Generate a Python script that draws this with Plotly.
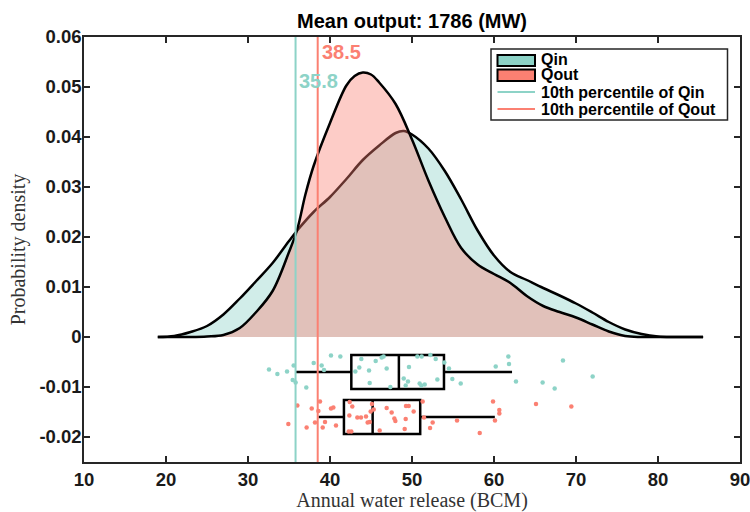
import plotly.graph_objects as go

# ---------------- data ----------------
# kernel density of annual water release (BCM)
kde_x_in = [19, 21, 23, 25, 27, 29, 31, 33, 35, 36, 38, 40, 42, 44, 46, 48, 49, 50, 52, 54,
            56, 58, 60, 62, 64, 66, 68, 70, 72, 74, 76, 78, 80, 82, 85.5]
kde_in = [0.0, 0.0002, 0.0010, 0.0022, 0.0045, 0.0077, 0.0112, 0.0148, 0.0192, 0.0213, 0.0250,
          0.0280, 0.0316, 0.0354, 0.0383, 0.0408, 0.0412, 0.0405, 0.0377, 0.0332, 0.0275,
          0.0213, 0.0163, 0.0130, 0.0114, 0.0098, 0.0083, 0.0067, 0.0049, 0.0030, 0.0015,
          0.0006, 0.0001, 0.0, 0.0]

kde_x_out = [19, 23, 25, 27, 29, 31, 33, 35, 36, 37, 38, 40, 42, 43, 44, 45, 46, 48, 50, 52,
             54, 56, 58, 60, 62, 64, 66, 68, 70, 72, 74, 76, 78, 82, 85.5]
kde_out = [0.0, 0.0, 0.0001, 0.0004, 0.0018, 0.0050, 0.0092, 0.0170, 0.0215, 0.0285, 0.0342,
           0.0428, 0.0503, 0.0522, 0.0529, 0.0525, 0.0509, 0.0466, 0.0395, 0.0313, 0.0240,
           0.0178, 0.0145, 0.0126, 0.0108, 0.0082, 0.0062, 0.0050, 0.0039, 0.0025, 0.0011,
           0.0002, 0.0, 0.0, 0.0]

# jittered samples
qin_pts_x = [32.56, 33.58, 34.76, 35.57, 35.45, 35.81, 37.11, 38.01, 38.98, 39.27, 40.12, 41.26,
             43.09, 43.57, 43.82, 44.76, 44.84, 45.57, 46.30, 46.54, 46.91, 47.36, 48.99, 49.23,
             49.51, 49.63, 50.65, 51.18, 50.93, 51.14, 51.55, 52.24, 52.89, 53.09, 53.94, 54.51,
             54.92, 55.94, 60.21, 61.75, 61.83, 62.68, 65.93, 67.40, 68.41, 72.03]
qin_pts_y = [-0.0065, -0.0074, -0.0069, -0.0057, -0.0086, -0.0091, -0.0101, -0.0052, -0.0057,
             -0.0066, -0.0037, -0.0039, -0.0069, -0.0061, -0.0044, -0.0067, -0.0092, -0.0048,
             -0.0041, -0.0039, -0.0063, -0.0100, -0.0083, -0.0097, -0.0089, -0.0060, -0.0039,
             -0.0039, -0.0093, -0.0097, -0.0095, -0.0036, -0.0044, -0.0085, -0.0051, -0.0063,
             -0.0084, -0.0093, -0.0059, -0.0039, -0.0054, -0.0089, -0.0091, -0.0103, -0.0047,
             -0.0079]
qout_pts_x = [36.02, 37.77, 38.78, 38.58, 34.92, 37.15, 38.17, 39.11, 39.39, 40.12, 40.41, 40.73,
              42.40, 42.36, 42.28, 42.60, 42.72, 43.33, 43.78, 44.39, 44.59, 44.84, 44.96, 45.12,
              45.33, 46.06, 46.91, 47.52, 47.85, 47.97, 49.27, 49.60, 49.23, 49.11, 50.20, 51.30,
              51.46, 52.52, 52.20, 55.49, 58.26, 59.88, 60.65, 60.65, 60.12, 65.12, 69.43]
qout_pts_y = [-0.0137, -0.0143, -0.0129, -0.0148, -0.0174, -0.0181, -0.0171, -0.0181, -0.0170,
              -0.0143, -0.0141, -0.0177, -0.0130, -0.0157, -0.0189, -0.0189, -0.0139, -0.0161,
              -0.0161, -0.0159, -0.0171, -0.0170, -0.0149, -0.0134, -0.0145, -0.0187, -0.0142,
              -0.0151, -0.0163, -0.0168, -0.0138, -0.0138, -0.0164, -0.0184, -0.0149, -0.0129,
              -0.0161, -0.0171, -0.0182, -0.0167, -0.0192, -0.0129, -0.0146, -0.0153, -0.0167,
              -0.0134, -0.0139]

# box-plot statistics
series_names = ["Qin", "Qout"]
box_pos = [-0.0070, -0.0160]
box_lower = [35.8, 38.6]
box_q1 = [42.6, 41.7]
box_median = [48.4, 45.2]
box_q3 = [53.9, 51.0]
box_upper = [62.2, 60.1]

p10 = [35.8, 38.5]
mean_output = 1786

x_ticks = [10, 20, 30, 40, 50, 60, 70, 80, 90]
y_ticks = [-0.02, -0.01, 0, 0.01, 0.02, 0.03, 0.04, 0.05, 0.06]
y_tick_labels = ["-0.02", "-0.01", "0", "0.01", "0.02", "0.03", "0.04", "0.05", "0.06"]

# ---------------- styling ----------------
TEAL = "#8dd3c7"
RED = "#fb8072"
TEAL_A = "rgba(141,211,199,0.4)"
RED_A = "rgba(251,128,114,0.4)"
SANS = "Liberation Sans"
SERIF = "Liberation Serif"
AXC = "#262626"

fig = go.Figure()

fig.add_trace(go.Scatter(x=kde_x_in, y=kde_in, mode="lines", line=dict(color="black", width=2.5, shape="spline"),
                         fill="tozeroy", fillcolor=TEAL_A, name="Qin", showlegend=False))
fig.add_trace(go.Scatter(x=kde_x_out, y=kde_out, mode="lines", line=dict(color="black", width=2.5, shape="spline"),
                         fill="tozeroy", fillcolor=RED_A, name="Qout", showlegend=False))

fig.add_trace(go.Scatter(x=qin_pts_x, y=qin_pts_y, mode="markers", marker=dict(color=TEAL, size=4.5),
                         showlegend=False, hoverinfo="skip"))
fig.add_trace(go.Scatter(x=qout_pts_x, y=qout_pts_y, mode="markers", marker=dict(color=RED, size=4.5),
                         showlegend=False, hoverinfo="skip"))

for i in range(2):
    fig.add_trace(go.Box(orientation="h", y=[box_pos[i]], q1=[box_q1[i]], median=[box_median[i]],
                         q3=[box_q3[i]], lowerfence=[box_lower[i]], upperfence=[box_upper[i]],
                         width=0.0068, whiskerwidth=0, boxpoints=False,
                         line=dict(color="black", width=2.5), fillcolor="rgba(0,0,0,0)",
                         name=series_names[i], showlegend=False))

for i, c in enumerate([TEAL, RED]):
    fig.add_trace(go.Scatter(x=[p10[i], p10[i]], y=[-0.025, 0.06], mode="lines",
                             line=dict(color=c, width=2), showlegend=False,
                             name="10th percentile of " + series_names[i]))

# percentile labels
fig.add_annotation(x=p10[0], y=0.0513, xref="x", yref="y", text="<b>%.1f</b>" % p10[0], showarrow=False,
                   xanchor="left", yanchor="middle", xshift=1, font=dict(family=SANS, size=20, color=TEAL))
fig.add_annotation(x=p10[1], y=0.0570, xref="x", yref="y", text="<b>%.1f</b>" % p10[1], showarrow=False,
                   xanchor="left", yanchor="middle", xshift=2, font=dict(family=SANS, size=20, color=RED))

# ---------------- manual legend (paper coordinates) ----------------
L, R, T, B = 84, 740, 37, 462
def pxx(px):
    return (px - L) / (R - L)
def pxy(py):
    return (B - py) / (B - T)

shapes = []
shapes.append(dict(type="rect", xref="paper", yref="paper", x0=pxx(491), x1=pxx(727.5), y0=pxy(49), y1=pxy(120),
                   line=dict(color=AXC, width=1.5), fillcolor="white", layer="above"))
shapes.append(dict(type="rect", xref="paper", yref="paper", x0=pxx(497.5), x1=pxx(535), y0=pxy(55), y1=pxy(66),
                   line=dict(color="black", width=2), fillcolor=TEAL, layer="above"))
shapes.append(dict(type="rect", xref="paper", yref="paper", x0=pxx(497.5), x1=pxx(535), y0=pxy(69.5), y1=pxy(81),
                   line=dict(color="black", width=2), fillcolor=RED, layer="above"))
shapes.append(dict(type="line", xref="paper", yref="paper", x0=pxx(497.5), x1=pxx(535), y0=pxy(92), y1=pxy(92),
                   line=dict(color=TEAL, width=2), layer="above"))
shapes.append(dict(type="line", xref="paper", yref="paper", x0=pxx(497.5), x1=pxx(535), y0=pxy(109), y1=pxy(109),
                   line=dict(color=RED, width=2), layer="above"))
legend_texts = ["Qin", "Qout", "10th percentile of Qin", "10th percentile of Qout"]
legend_rows = [60, 75, 92, 109]
for t, r in zip(legend_texts, legend_rows):
    fig.add_annotation(x=pxx(539), y=pxy(r), xref="paper", yref="paper", text="<b>%s</b>" % t, showarrow=False,
                       xanchor="left", yanchor="middle", font=dict(family=SANS, size=16, color="black"))

fig.update_layout(
    width=750, height=512,
    margin=dict(l=L, r=750 - R, t=T, b=512 - B),
    plot_bgcolor="white", paper_bgcolor="white",
    shapes=shapes,
    title=dict(text="<b>Mean output: %d (MW)</b>" % mean_output, x=pxx(412), xref="paper",
               xanchor="center", y=1 - 21 / 512, yref="container", yanchor="middle",
               font=dict(family=SANS, size=20, color="black")),
    xaxis=dict(range=[10, 90], tickvals=x_ticks, ticks="inside", ticklen=6, tickwidth=1.5, tickcolor=AXC,
               showline=True, linecolor=AXC, linewidth=1.5, mirror="ticks", showgrid=False, zeroline=False,
               automargin=False, ticklabeloverflow="allow",
               tickfont=dict(family=SANS, size=18.5, color="#1a1a1a", weight="bold"), ticklabelstandoff=0,
               title=dict(text="Annual water release (BCM)", font=dict(family=SERIF, size=20, color="#333333"),
                          standoff=8)),
    yaxis=dict(range=[-0.025, 0.06], tickvals=y_ticks, ticktext=y_tick_labels, ticks="inside", ticklen=6,
               tickwidth=1.5, tickcolor=AXC, showline=True, linecolor=AXC, linewidth=1.5, mirror="ticks",
               showgrid=False, zeroline=False, automargin=False,
               tickfont=dict(family=SANS, size=18.5, color="#1a1a1a", weight="bold"), ticklabelstandoff=-3,
               title=dict(text="Probability density", font=dict(family=SERIF, size=20, color="#333333"),
                          standoff=8)),
)

fig.write_html("out.html")
